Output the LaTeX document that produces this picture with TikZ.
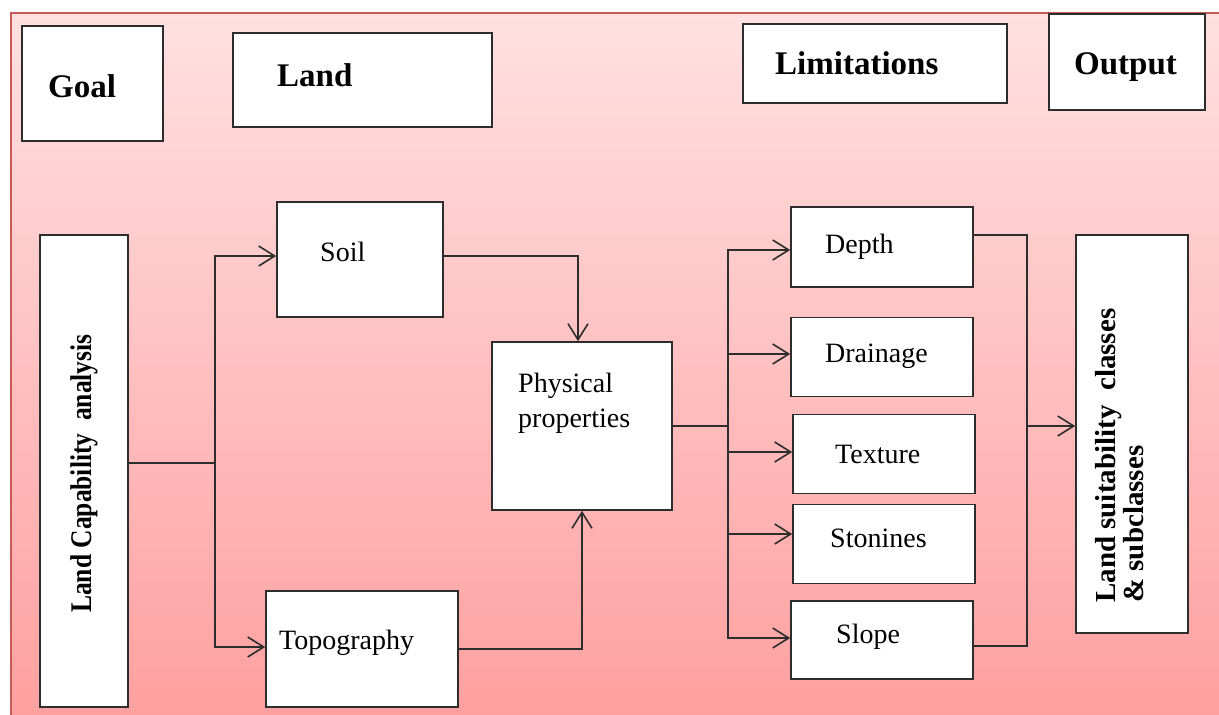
\documentclass[tikz,border=0pt]{standalone}
\usepackage{fontspec}
\usepackage{graphicx}
\setmainfont{Liberation Serif}
\usetikzlibrary{arrows.meta}
\definecolor{pinkT}{RGB}{255,225,225}
\definecolor{pinkB}{RGB}{255,160,160}
\definecolor{frameRed}{RGB}{200,90,90}
\definecolor{lineGray}{RGB}{45,45,45}
\begin{document}
\begin{tikzpicture}[x=1pt,y=-1pt,
  box/.style={draw=lineGray, fill=white, line width=1.6pt, inner sep=0pt},
  ln/.style={draw=lineGray, line width=1.6pt},
  arr/.style={ln, -{Straight Barb[length=16pt,width=20pt]}},
  txt/.style={anchor=base west, inner sep=0pt, font=\fontsize{28}{34}\selectfont},
  btxt/.style={anchor=base west, inner sep=0pt, font=\fontsize{33}{40}\selectfont\bfseries},
  rtxt/.style={anchor=base west, inner sep=0pt, rotate=90},
]
\useasboundingbox (0,0) rectangle (1219,715);
% background frame
\fill[top color=pinkT, bottom color=pinkB] (11,13) rectangle (1219,715);
\draw[frameRed, line width=1.2pt] (11,715) -- (11,13) -- (1219,13);

% header boxes
\node[box, minimum width=141pt, minimum height=115pt] (goal) at (92.5,83.5) {};
\node[box, minimum width=259pt, minimum height=94pt] (land) at (362.5,80) {};
\node[box, minimum width=264pt, minimum height=79pt] (lim) at (875,63.5) {};
\node[box, minimum width=156pt, minimum height=96pt] (out) at (1127,62) {};

% flow boxes
\node[box, minimum width=88pt, minimum height=472pt] (lca) at (84,471) {};
\node[box, minimum width=166pt, minimum height=115pt] (soil) at (360,259.5) {};
\node[box, minimum width=192pt, minimum height=116pt] (topo) at (362,649) {};
\node[box, minimum width=180pt, minimum height=168pt] (phys) at (582,426) {};
\node[box, minimum width=182pt, minimum height=80pt] (depth) at (882,247) {};
\node[box, minimum width=182pt, minimum height=79pt] (drain) at (882,357) {};
\node[box, minimum width=182pt, minimum height=79pt] (text) at (884,454) {};
\node[box, minimum width=182pt, minimum height=79pt] (stone) at (884,544) {};
\node[box, minimum width=182pt, minimum height=78pt] (slope) at (882,640) {};
\node[box, minimum width=112pt, minimum height=398pt] (ls) at (1132,434) {};

% junctions
\coordinate (jL) at (215,463);
\coordinate (jR) at (728,426);
\coordinate (jO) at (1027,426);

% connectors
\draw[ln] (lca.east |- jL) -- (jL);
\draw[arr] (jL) |- ([yshift=3.5pt]soil.west);
\draw[arr] (jL) |- ([yshift=2pt]topo.west);
\draw[arr] ([yshift=3.5pt]soil.east) -| ([xshift=-4pt]phys.north);
\draw[arr] (topo.east) -| (phys.south);
\draw[ln] (phys.east) -- (jR);
\draw[arr] (jR) |- ([yshift=-3pt]depth.west);
\draw[arr] (jR) |- ([yshift=3pt]drain.west);
\draw[arr] (jR) |- ([yshift=2pt]text.west);
\draw[arr] (jR) |- ([yshift=10pt]stone.west);
\draw[arr] (jR) |- ([yshift=2pt]slope.west);
\draw[ln] ([yshift=12pt]depth.east) -| (jO);
\draw[ln] ([yshift=-6pt]slope.east) -| (jO);
\draw[arr] (jO) -- (ls.west |- jO);

% texts
\node[btxt] (goalT) at (48,97) {Goal};
\node[btxt] (landT) at (277,86) {Land};
\node[btxt] (limT) at (775,74) {Limitations};
\node[btxt] (outT) at (1074,74) {Output};
\node[txt] (soilT) at (320,261) {Soil};
\node[txt] (topoT) at (279,649) {Topography};
\node[txt] (physA) at (518,392) {Physical};
\node[txt] (physB) at (518,427) {properties};
\node[txt] (depthT) at (825,253) {Depth};
\node[txt] (drainT) at (825,362) {Drainage};
\node[txt] (textT) at (835,463) {Texture};
\node[txt] (stoneT) at (830,547) {Stonines};
\node[txt] (slopeT) at (836,643) {Slope};
\node[rtxt, font=\fontsize{30}{34}\selectfont\bfseries] (lcaT) at (91,613) {\scalebox{0.85}[1]{Land Capability\ \ analysis}};
\node[rtxt, font=\fontsize{29}{34}\selectfont\bfseries] (lsA) at (1115,603) {Land suitability\ \ classes};
\node[rtxt, font=\fontsize{29}{34}\selectfont\bfseries] (lsB) at (1143,603) {\& subclasses};
\end{tikzpicture}
\end{document}
